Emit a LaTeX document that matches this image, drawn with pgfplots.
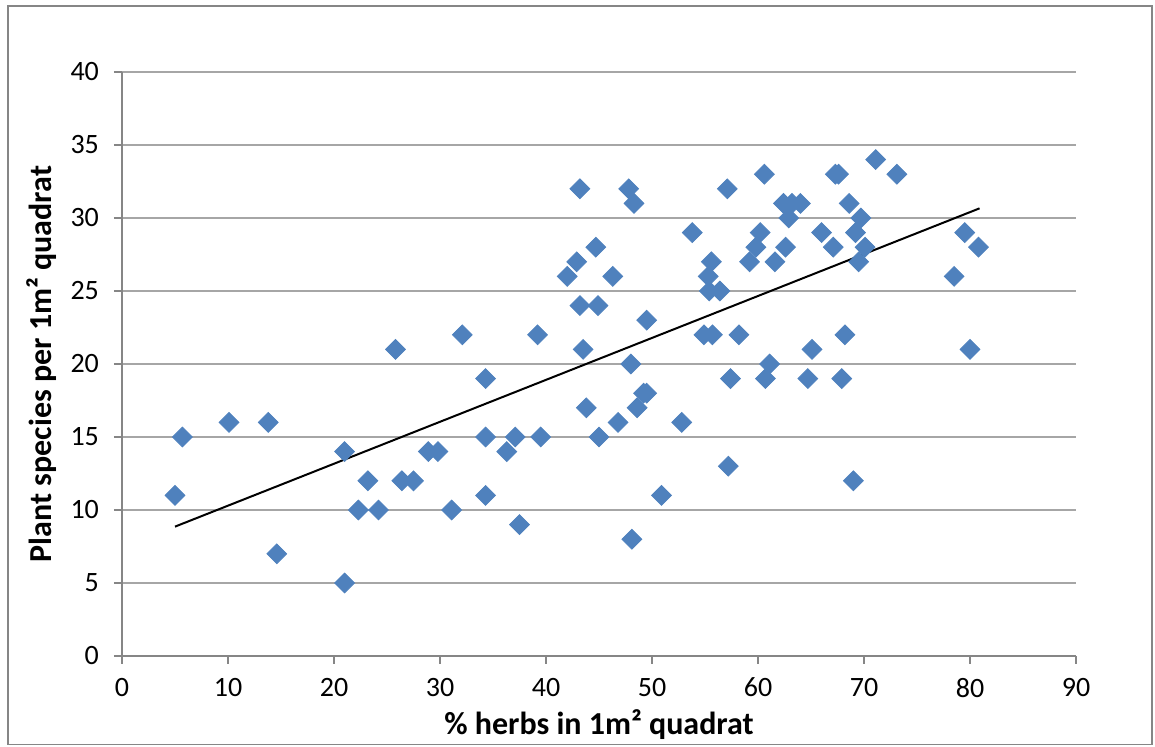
\documentclass[border=0pt]{standalone}
\usepackage{fontspec}
\setmainfont{Carlito}
\usepackage{pgfplots}
\pgfplotsset{compat=1.18}
\definecolor{ptBlue}{HTML}{4F81BD}
\definecolor{gridGray}{HTML}{A6A6A6}
\definecolor{axGray}{HTML}{868686}
\definecolor{frameGray}{HTML}{868686}

\begin{document}
\begin{tikzpicture}
\useasboundingbox (0,0) rectangle (577.5pt,373.5pt);
\draw[frameGray, line width=0.6pt] (4pt,1.2pt) rectangle (576pt,370.5pt);
\begin{axis}[
  at={(61pt,45.5pt)}, anchor=south west,
  scale only axis, width=477pt, height=292pt,
  xmin=0, xmax=90, ymin=0, ymax=40,
  xtick={0,10,...,90}, ytick={0,5,...,40},
  axis x line*=bottom, axis y line*=left,
  axis line style={axGray, line width=0.6pt, -},
  ymajorgrids, grid style={gridGray, line width=0.6pt},
  tick align=outside, major tick length=4pt,
  tick style={axGray, line width=0.6pt},
  /pgf/number format/assume math mode=true,
  tick label style={font=\fontsize{14}{16}\selectfont, text=black},
  xticklabel style={yshift=-3.5pt},
  yticklabel style={xshift=-4pt},
  xlabel={\% herbs in 1m² quadrat},
  ylabel={Plant species per 1m² quadrat},
  label style={font=\fontsize{16}{18}\selectfont\bfseries},
  xlabel style={yshift=1pt},
  clip=false
]
\addplot[only marks, mark=square*, mark size=3.5pt,
  mark options={rotate=45, fill=ptBlue, draw=ptBlue}]
  coordinates {
  (5.0,11)(5.7,15)(10.1,16)(13.8,16)(14.6,7)(21.0,14)(21.0,5)(22.3,10)
  (23.2,12)(24.2,10)(25.8,21)(26.4,12)(27.5,12)(28.9,14)(29.8,14)(31.1,10)
  (32.1,22)(34.3,19)(34.3,15)(34.3,11)(36.3,14)(37.1,15)(37.5,9)(39.2,22)
  (39.5,15)(42.0,26)(42.9,27)(43.2,32)(43.2,24)(43.5,21)(43.8,17)(44.7,28)
  (44.9,24)(45.0,15)(46.3,26)(46.8,16)(47.8,32)(48.0,20)(48.1,8)(48.3,31)
  (48.6,17)(49.2,18)(49.5,18)(49.5,23)(50.9,11)(52.8,16)(53.8,29)(54.9,22)
  (55.3,26)(55.4,25)(55.6,27)(55.7,22)(56.4,25)(57.1,32)(57.2,13)(57.4,19)
  (58.2,22)(59.2,27)(59.8,28)(60.2,29)(60.6,33)(60.7,19)(61.1,20)(61.6,27)
  (62.4,31)(62.6,28)(62.9,30)(63.2,31)(64.0,31)(64.7,19)(65.1,21)(66.0,29)
  (67.1,28)(67.3,33)(67.6,33)(67.9,19)(68.2,22)(68.6,31)(69.0,12)(69.2,29)
  (69.5,27)(69.7,30)(70.1,28)(71.1,34)(73.1,33)(78.5,26)(79.5,29)(80.0,21)
  (80.8,28)
  };
\addplot[black, line width=1pt, no marks]
  coordinates {(5.0,8.86)(80.9,30.66)};
\end{axis}
\end{tikzpicture}
\end{document}
